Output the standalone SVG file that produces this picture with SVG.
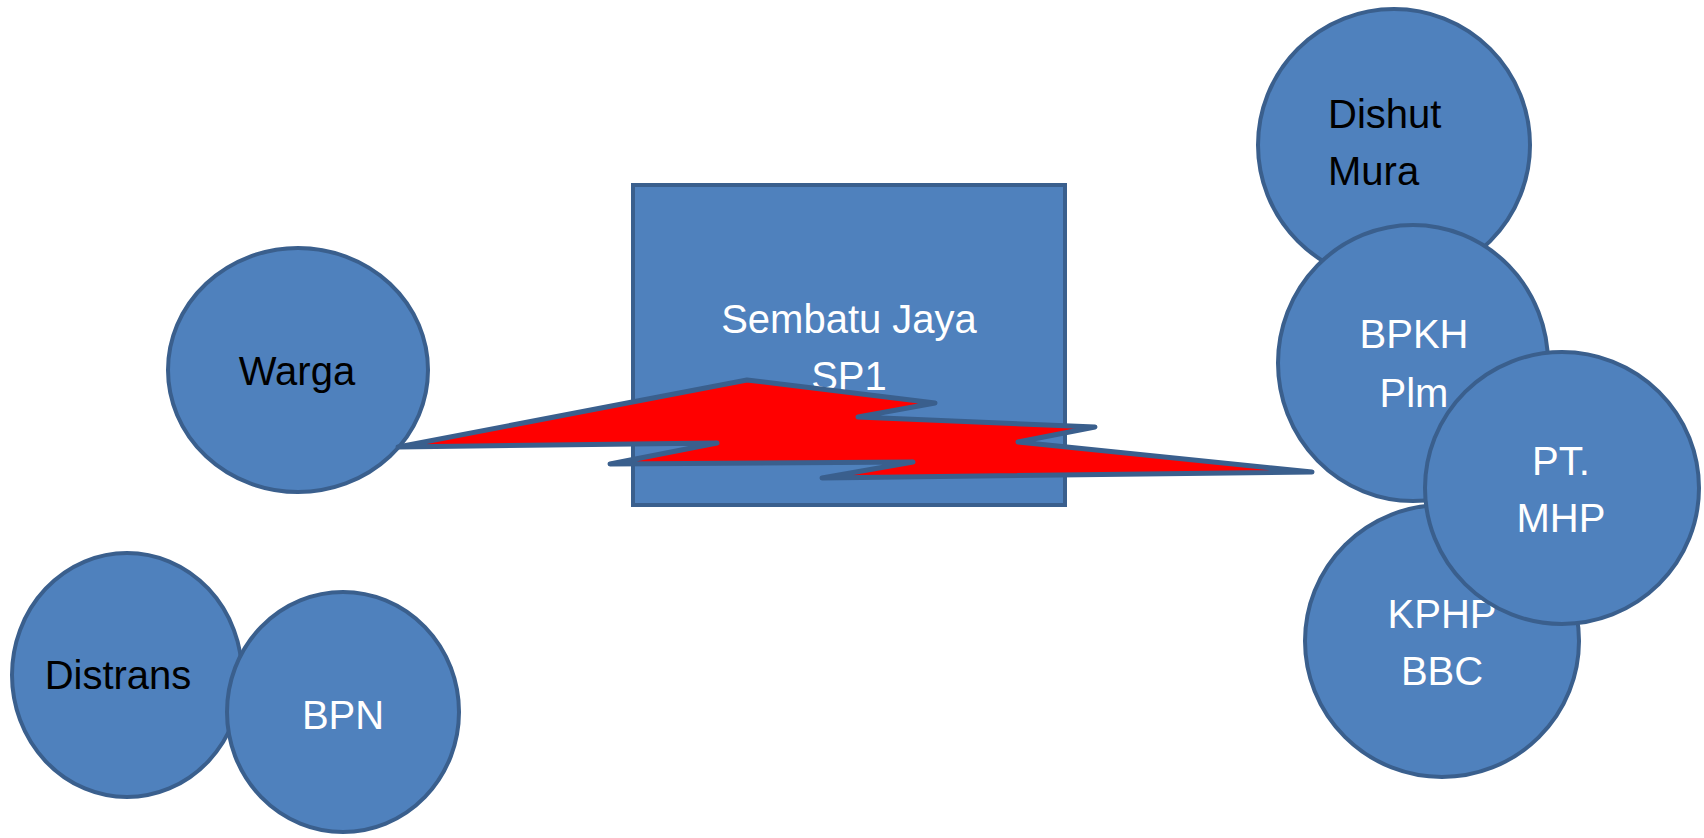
<svg xmlns="http://www.w3.org/2000/svg" width="1704" height="838" viewBox="0 0 1704 838">
<style>
.n{fill:#4F81BD;stroke:#3A5F8D;stroke-width:4}
.t{font-family:"Liberation Sans",Arial,sans-serif;font-size:40px;text-anchor:middle}
.w{fill:#FFFFFF}
.k{fill:#000000}
.bolt{fill:#FF0000;stroke:#3A5F8D;stroke-width:5;stroke-linejoin:round}
</style>
<rect width="1704" height="838" fill="#FFFFFF"/>
<g id="node-sembatu">
<rect class="n" x="633" y="185" width="432" height="320"/>
<text class="t w" x="849" y="333">Sembatu Jaya</text>
<text class="t w" x="849" y="390">SP1</text>
</g>
<g id="node-warga">
<ellipse class="n" cx="298" cy="370" rx="130" ry="122"/>
<text class="t k" x="297" y="385">Warga</text>
</g>
<g id="connectors">
<polygon class="bolt" points="398,447 747,380 935,403 858,417 1095,427 1018,442 1312,472 822,478 913,462 610,464 717,443"/>
</g>
<g id="node-distrans">
<ellipse class="n" cx="127" cy="675" rx="115" ry="122"/>
<text class="t k" x="118" y="689">Distrans</text>
</g>
<g id="node-bpn">
<ellipse class="n" cx="343" cy="712" rx="116" ry="120"/>
<text class="t w" x="343" y="729">BPN</text>
</g>
<g id="node-dishut">
<circle class="n" cx="1394" cy="145" r="136"/>
<text class="t k" x="1328" y="128" text-anchor="start" style="text-anchor:start">Dishut</text>
<text class="t k" x="1328" y="185" style="text-anchor:start">Mura</text>
</g>
<g id="node-bpkh">
<ellipse class="n" cx="1413" cy="363" rx="135" ry="138"/>
<text class="t w" x="1414" y="348">BPKH</text>
<text class="t w" x="1414" y="407">Plm</text>
</g>
<g id="node-kphp">
<ellipse class="n" cx="1442" cy="641" rx="137" ry="136"/>
<text class="t w" x="1442" y="628">KPHP</text>
<text class="t w" x="1442" y="685">BBC</text>
</g>
<g id="node-ptmhp">
<ellipse class="n" cx="1562" cy="488" rx="137" ry="136"/>
<text class="t w" x="1561" y="475">PT.</text>
<text class="t w" x="1561" y="532">MHP</text>
</g>
</svg>
